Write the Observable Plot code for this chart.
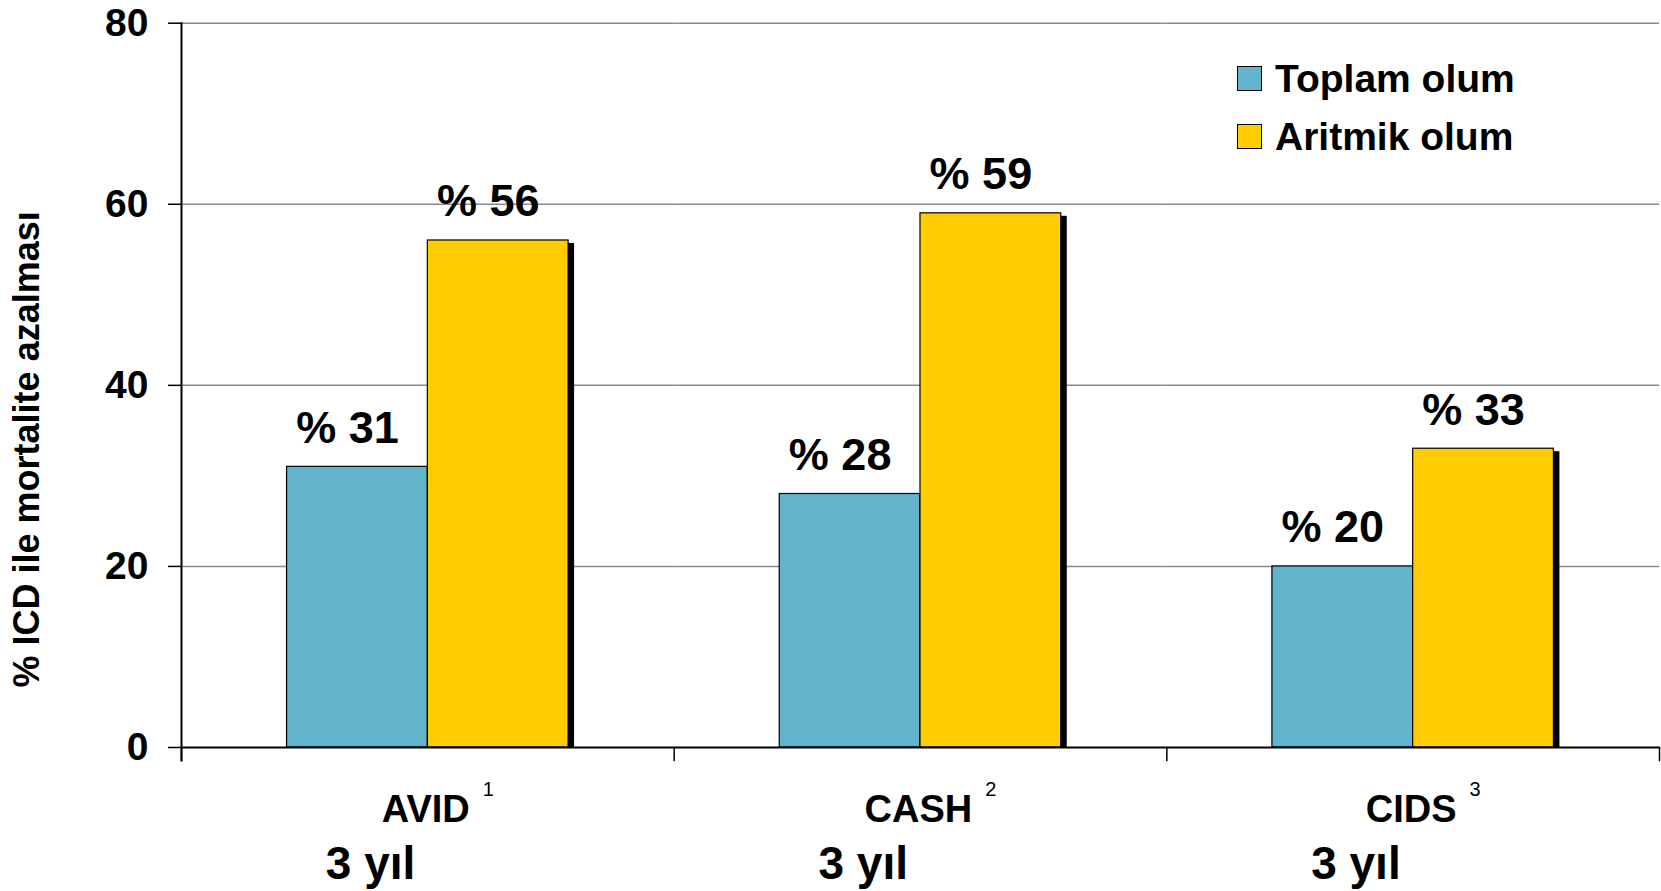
<!DOCTYPE html>
<html>
<head>
<meta charset="utf-8">
<script src="https://cdn.jsdelivr.net/npm/d3@7"></script>
<script src="https://cdn.jsdelivr.net/npm/@observablehq/plot@0.6"></script>
<style>
  html, body { margin: 0; padding: 0; background: #fff; }
  #chart { position: relative; width: 1661px; height: 891px; font-family: "Liberation Sans", Arial, sans-serif; }
  #legend { position: absolute; left: 1237px; top: 49px; }
  #legend .row { display: flex; align-items: center; height: 58px; }
  #legend .sw { width: 25px; height: 25px; box-sizing: border-box; border: 1.5px solid #000; margin-right: 13px; }
  #legend .lab { font-size: 39px; font-weight: bold; line-height: 1; color: #000; white-space: nowrap; }
</style>
</head>
<body>
<div id="chart"></div>
<script>
// Studies (with reference numbers) and follow-up period
const studies = ["AVID", "CASH", "CIDS"];
const studyRefs = ["1", "2", "3"];
const followUp = ["3 yıl", "3 yıl", "3 yıl"];

// Series: mortality reduction with ICD (%)
const seriesNames = ["Toplam olum", "Aritmik olum"];
const seriesColors = ["#62B3CC", "#FFCC00"];
const totalDeath = [31, 28, 20];
const arrhythmicDeath = [56, 59, 33];

// Value axis
const yTicks = [0, 20, 40, 60, 80];
const yLabel = "% ICD ile mortalite azalması";

const rows = studies.flatMap((s, i) => [
  {study: s, series: seriesNames[0], value: totalDeath[i]},
  {study: s, series: seriesNames[1], value: arrhythmicDeath[i]}
]);

const W = 1661, H = 891;
const M = {top: 22.7, right: 2, bottom: 144, left: 181};
const frameH = H - M.top - M.bottom;
const font = "'Liberation Sans', Arial, sans-serif";

const chart = Plot.plot({
  width: W,
  height: H,
  marginTop: M.top,
  marginRight: M.right,
  marginBottom: M.bottom,
  marginLeft: M.left,
  style: {fontFamily: font, color: "#000", background: "transparent", overflow: "visible"},
  fx: {domain: studies, padding: 0, axis: null, round: false},
  x: {domain: seriesNames, paddingInner: 0, paddingOuter: 0.75, axis: null, round: false},
  y: {domain: [0, 80], axis: null},
  color: {domain: seriesNames, range: seriesColors},
  marks: [
    // horizontal gridlines
    Plot.gridY(yTicks.filter((t) => t > 0), {stroke: "#8a8a8a", strokeOpacity: 1, strokeWidth: 1.5}),
    // drop shadow behind each bar
    Plot.barY(rows, {fx: "study", x: "series", y: "value", fill: "#000", dx: 6, dy: 3, insetBottom: 3}),
    // bars
    Plot.barY(rows, {fx: "study", x: "series", y: "value", fill: "series", stroke: "#000", strokeWidth: 1.2}),
    // category baseline
    Plot.ruleY([0], {stroke: "#000", strokeWidth: 2}),
    // value axis line
    Plot.frame({anchor: "left", facetAnchor: "left", insetBottom: -13, stroke: "#000", strokeWidth: 2}),
    // category boundary ticks
    Plot.frame({anchor: "left", insetTop: frameH, insetBottom: -13, stroke: "#000", strokeWidth: 1.5}),
    Plot.frame({anchor: "right", facetAnchor: "right", insetTop: frameH, insetBottom: -13, stroke: "#000", strokeWidth: 1.5}),
    // value axis ticks and labels
    Plot.axisY({ticks: yTicks, tickSize: 13, tickPadding: 20, fontSize: 39, fontWeight: "bold", label: null, strokeWidth: 1.5, stroke: "#000"}),
    // value labels above bars
    Plot.text(rows, {
      fx: "study", x: "series", y: "value",
      text: (d) => `% ${d.value}`,
      lineAnchor: "bottom", dy: -24, dx: -10,
      fontSize: 45, fontWeight: "bold", fill: "#000"
    }),
    // study names
    Plot.text(studies, {
      fx: (d) => d, frameAnchor: "bottom", lineAnchor: "bottom",
      dy: 74, dx: 10, fontSize: 38, fontWeight: "bold", fill: "#000"
    }),
    // follow-up period
    Plot.text(followUp, {
      fx: (d, i) => studies[i], frameAnchor: "bottom", textAnchor: "start", lineAnchor: "bottom",
      dy: 131, dx: -102, fontSize: 46, fontWeight: "bold", fill: "#000"
    }),
    // value axis title
    Plot.text([yLabel], {
      fx: () => studies[0], frameAnchor: "left", textAnchor: "middle", rotate: -90,
      dx: -154, dy: 64, fontSize: 36, fontWeight: "bold", fill: "#000"
    })
  ]
});

// reference numbers as superscripts after each study name
d3.select(chart).selectAll("text")
  .filter(function () { return studies.includes(this.textContent); })
  .each(function () {
    const i = studies.indexOf(this.textContent);
    d3.select(this).append("tspan")
      .attr("dx", 13)
      .attr("dy", -26)
      .attr("font-size", 20)
      .attr("font-weight", "normal")
      .text(studyRefs[i]);
  });

const host = document.getElementById("chart");
host.appendChild(chart);

// legend
const legend = document.createElement("div");
legend.id = "legend";
seriesNames.forEach((name, i) => {
  const row = document.createElement("div");
  row.className = "row";
  const sw = document.createElement("div");
  sw.className = "sw";
  sw.style.background = seriesColors[i];
  const lab = document.createElement("div");
  lab.className = "lab";
  lab.textContent = name;
  row.appendChild(sw);
  row.appendChild(lab);
  legend.appendChild(row);
});
host.appendChild(legend);
</script>
</body>
</html>
